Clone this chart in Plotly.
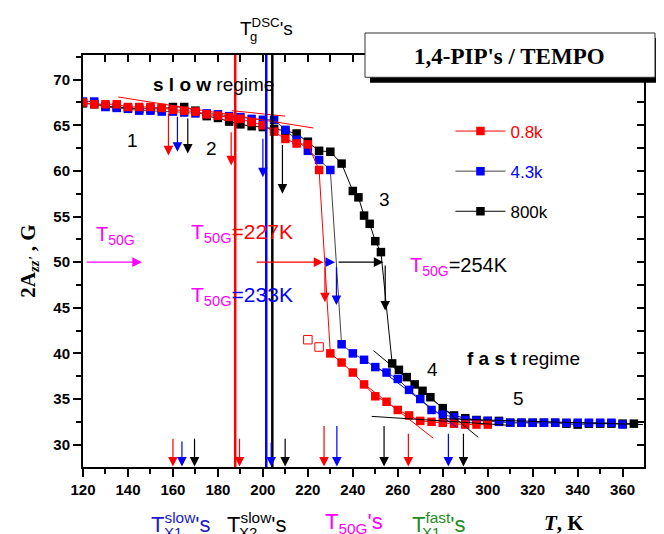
import plotly.graph_objects as go

# ---- data (T in K, 2Azz' in G) ----
red_T = [120, 125, 130, 135, 140, 145, 150, 155, 160, 165, 170, 175, 180, 185, 190, 195, 200, 205, 210,
         215, 220, 225, 230, 235, 240, 245, 250, 255, 260, 265, 270, 275, 280, 285, 290, 295, 300]
red_G = [67.5, 67.3, 67.3, 67.3, 67.0, 67.0, 67.0, 66.9, 66.7, 66.6, 66.5, 66.2, 66.05, 65.9, 65.7, 65.35,
         65.0, 64.3, 63.5, 63.0, 62.9, 60.1, 40.0, 39.0, 37.9, 36.6, 35.3, 34.7, 33.8, 33.2, 32.6, 32.5,
         32.4, 32.3, 32.2, 32.2, 32.2]
red_open_T = [220, 225]
red_open_G = [41.5, 40.7]

blue_T = [120, 125, 130, 135, 140, 145, 150, 155, 160, 165, 170, 175, 180, 185, 190, 195, 200, 205, 210,
          215, 220, 225, 230, 235, 240, 245, 250, 255, 260, 265, 270, 275, 280, 285, 290, 295, 300, 305,
          310, 315, 320, 325, 330, 335, 340, 345, 350, 355, 360]
blue_G = [67.6, 67.6, 67.0, 66.9, 66.8, 66.6, 66.6, 66.5, 66.5, 66.4, 66.3, 66.3, 66.2, 66.0, 65.9, 65.7,
          65.6, 65.6, 64.5, 63.4, 62.2, 61.2, 60.1, 41.0, 40.0, 39.3, 38.5, 37.9, 37.2, 36.0, 35.0, 33.8,
          33.3, 33.0, 32.7, 32.65, 32.6, 32.5, 32.4, 32.4, 32.4, 32.4, 32.4, 32.4, 32.4, 32.4, 32.4, 32.4,
          32.2]

black_T = [120, 125, 130, 135, 140, 145, 150, 155, 160, 165, 170, 175, 180, 185, 190, 195, 200, 205, 210,
           215, 220, 225, 230, 235, 240, 242.5, 245, 247.5, 250, 252.5, 257.5, 260.5, 264, 267.5, 271,
           274.5, 280, 285, 290, 295, 300, 305, 310, 315, 320, 325, 330, 335, 340, 345, 350, 355, 360, 365]
black_G = [67.4, 67.3, 67.1, 67.0, 66.9, 66.8, 66.8, 66.8, 67.0, 67.0, 66.6, 66.0, 65.8, 65.4, 65.1, 64.9,
           64.8, 64.6, 64.4, 64.1, 63.2, 62.2, 62.1, 60.8, 57.8, 57.1, 55.1, 54.2, 52.3, 51.1, 38.9, 38.2,
           37.4, 36.6, 35.9, 35.2, 34.0, 33.2, 32.9, 32.7, 32.6, 32.6, 32.4, 32.4, 32.4, 32.4, 32.4, 32.3,
           32.2, 32.3, 32.3, 32.3, 32.3, 32.3]

# DSC glass transitions (vertical lines)
tg_T = [187.7, 201.5, 204.2]
tg_col = ["red", "blue", "black"]

# tangent lines: (T0, T1), (G0, G1), colour
tangents = [
    ([135.7, 222.5], [68.1, 64.7], "red"),
    ([186.2, 209.9], [66.6, 66.0], "red"),
    ([243.2, 275.8], [37.0, 30.7], "red"),
    ([250.7, 286.2], [38.5, 31.9], "blue"),
    ([249.2, 295.8], [40.3, 30.8], "black"),
    ([248.4, 310.7], [33.1, 32.1], "black"),
    ([278.8, 369.0], [32.85, 32.2], "black"),
]

# arrows drawn onto the bottom axis (T_X1 slow, T_X2 slow, T_50G, T_X1 fast)
bot_T = [160, 164, 169.6, 189.6, 203.7, 209.9, 227.2, 232.9, 253.9, 264.7, 282.5, 289.2]
bot_from = [30.8, 30.5, 30.8, 30.8, 30.4, 30.8, 32.2, 32.2, 32.2, 31.35, 31.35, 31.35]
bot_col = ["red", "blue", "black"] * 4

# arrows on the curves
up_T = [158, 162, 166.6, 185.9, 200, 208.7, 227.6, 232.7, 254.4]
up_from = [66.4, 66.1, 65.9, 64.4, 63.7, 63.0, 49.6, 49.6, 49.8]
up_to = [61.7, 62.1, 61.9, 60.6, 59.3, 57.5, 45.6, 45.3, 44.7]
up_col = ["red", "blue", "black"] * 3

# horizontal arrows at the 50 G level
h_from = [121, 196.6, 227.0, 233.0]
h_to = [146.2, 226.9, 232.1, 253.6]
h_col = ["#ff00ff", "red", "blue", "black"]
G50 = 50

fig = go.Figure()

fig.add_trace(go.Scatter(x=black_T, y=black_G, mode="lines+markers", name="800k", legendrank=3,
                         legendgroup="c", line=dict(color="black", width=1),
                         marker=dict(symbol="square", size=8.5, color="black")))
fig.add_trace(go.Scatter(x=blue_T, y=blue_G, mode="lines+markers",
                         name="<span style='color:blue'>4.3k</span>", legendrank=2, legendgroup="b",
                         line=dict(color="#444444", width=1),
                         marker=dict(symbol="square", size=8.5, color="blue")))
fig.add_trace(go.Scatter(x=red_T, y=red_G, mode="lines+markers",
                         name="<span style='color:red'>0.8k</span>", legendrank=1, legendgroup="a",
                         line=dict(color="red", width=1),
                         marker=dict(symbol="square", size=8.5, color="red")))
fig.add_trace(go.Scatter(x=red_open_T, y=red_open_G, mode="markers", showlegend=False,
                         marker=dict(symbol="square-open", size=8.5, color="red", line=dict(width=1))))

for tx, ty, c in tangents:
    fig.add_trace(go.Scatter(x=tx, y=ty, mode="lines", showlegend=False, hoverinfo="skip",
                             line=dict(color=c, width=1)))

# invisible trace so the mirrored (inside-tick) axes get drawn
fig.add_trace(go.Scatter(x=black_T, y=black_G, xaxis="x2", yaxis="y2", mode="markers",
                         marker=dict(opacity=0), showlegend=False, hoverinfo="skip"))

for t, c in zip(tg_T, tg_col):
    fig.add_shape(type="line", xref="x", yref="paper", x0=t, x1=t, y0=0, y1=1,
                  line=dict(color=c, width=2.5), layer="above")

ymin, ymax = 27.55, 72.7
xmin, xmax = 120, 369.5

arr = dict(showarrow=True, text="", axref="x", ayref="y", arrowhead=2, arrowsize=1.6,
           arrowwidth=1.2, standoff=0)
for t, g0, c in zip(bot_T, bot_from, bot_col):
    fig.add_annotation(x=t, y=ymin + 0.05, ax=t, ay=g0, arrowcolor=c, **arr)
for t, g0, g1, c in zip(up_T, up_from, up_to, up_col):
    fig.add_annotation(x=t, y=g1, ax=t, ay=g0, arrowcolor=c, **arr)
for t0, t1, c in zip(h_from, h_to, h_col):
    fig.add_annotation(x=t1, y=G50, ax=t0, ay=G50, arrowcolor=c, **arr)

sans = "Liberation Sans"
serif = "Liberation Serif"


def txt(x, y, s, size=19, color="black", xanchor="center", xref="x", yref="y", family=sans):
    fig.add_annotation(x=x, y=y, xref=xref, yref=yref, text=s, showarrow=False, xanchor=xanchor,
                       yanchor="middle", font=dict(family=family, size=size, color=color))


txt(142, 63.35, "1")
txt(177, 62.4, "2")
txt(254, 56.9, "3")
txt(275.3, 38.25, "4")
txt(313.5, 35.1, "5")
txt(178, 69.5, "<b>s l o w</b> regime", size=19)
txt(316, 39.4, "<b>f a s t</b> regime", size=19)

txt(124.8, 52.9, "T<sub>50G</sub>", size=20, color="#ff00ff", xanchor="left")
txt(167.0, 53.2, "<span style='color:#ff00ff'>T<sub>50G</sub></span>=227K", size=21,
    color="red", xanchor="left")
txt(167.0, 46.3, "<span style='color:#ff00ff'>T<sub>50G</sub></span>=233K", size=21,
    color="blue", xanchor="left")
txt(264.5, 49.5, "<span style='color:#ff00ff'>T<sub>50G</sub></span>=254K", size=20,
    color="black", xanchor="left")

# labels outside the plot area
txt(0.2763, 1.068, "T<sup>DSC</sup>'s", size=19, xanchor="left", xref="paper", yref="paper")
txt(0.3039, 1.044, "g", size=13, xref="paper", yref="paper")

bot_y = -0.135
txt(163.2, bot_y, "T<sup>slow</sup>'s", size=22, color="#1c1cc0", yref="paper")
txt(159.9, -0.158, "X1", size=15, color="#1c1cc0", yref="paper")
txt(197.0, bot_y, "T<sup>slow</sup>'s", size=22, yref="paper")
txt(193.6, -0.158, "X2", size=15, yref="paper")
txt(240.6, bot_y, "T<sub>50G</sub>'s", size=22, color="#ff00ff", yref="paper")
txt(278.1, bot_y, "T<sup>fast</sup>'s", size=22, color="#228b22", yref="paper")
txt(274.8, -0.158, "X1", size=15, color="#228b22", yref="paper")
txt(333.7, bot_y, "<b><i>T</i>, K</b>", size=21, yref="paper", family=serif)

# title box with shadow
fig.add_shape(type="rect", xref="paper", yref="paper", x0=0.5116, x1=1.0285, y0=0.9328, y1=1.0413,
              fillcolor="black", line=dict(width=0), layer="above")
fig.add_shape(type="rect", xref="paper", yref="paper", x0=0.5027, x1=1.0196, y0=0.9459, y1=1.0534,
              fillcolor="white", line=dict(color="#333333", width=1), layer="above")
txt(0.761, 0.997, "<b>1,4-PIP's / TEMPO</b>", size=23, xref="paper", yref="paper", family=serif)

axis_common = dict(showgrid=False, zeroline=False, showline=True, linewidth=2, linecolor="black",
                   tickwidth=2, tickcolor="black")

# the page body adds an 8 px offset, so the figure is 8 px smaller and margins are shifted
fig.update_layout(
    width=656, height=526,
    margin=dict(l=75, r=20, t=47, b=67),
    plot_bgcolor="white", paper_bgcolor="white",
    font=dict(family=sans, color="black"),
    showlegend=True,
    legend=dict(x=0.655, y=0.858, xanchor="left", yanchor="top", bgcolor="rgba(0,0,0,0)",
                font=dict(family=sans, size=17), itemwidth=50, tracegroupgap=15),
    xaxis=dict(range=[xmin, xmax], dtick=20, tick0=120, ticks="outside", ticklen=8,
               minor=dict(dtick=10, ticks="outside", ticklen=5, tickwidth=2, tickcolor="black"),
               tickfont=dict(family=sans, size=15, weight="bold"), **axis_common),
    yaxis=dict(range=[ymin, ymax], dtick=5, tick0=30, ticks="outside", ticklen=8,
               minor=dict(dtick=2.5, ticks="outside", ticklen=5, tickwidth=2, tickcolor="black"),
               tickfont=dict(family=sans, size=15, weight="bold"),
               title=dict(text="<b>2A<sub><i>zz'</i></sub> , G</b>", standoff=12,
                          font=dict(family=serif, size=21)), **axis_common),
    xaxis2=dict(range=[xmin, xmax], overlaying="x", side="top", anchor="y2", dtick=10, tick0=120,
                ticks="inside", ticklen=7, showticklabels=False, **axis_common),
    yaxis2=dict(range=[ymin, ymax], overlaying="y", side="right", anchor="x2", dtick=2.5, tick0=30,
                ticks="inside", ticklen=7, showticklabels=False, **axis_common),
)

fig.write_html("out.html")
